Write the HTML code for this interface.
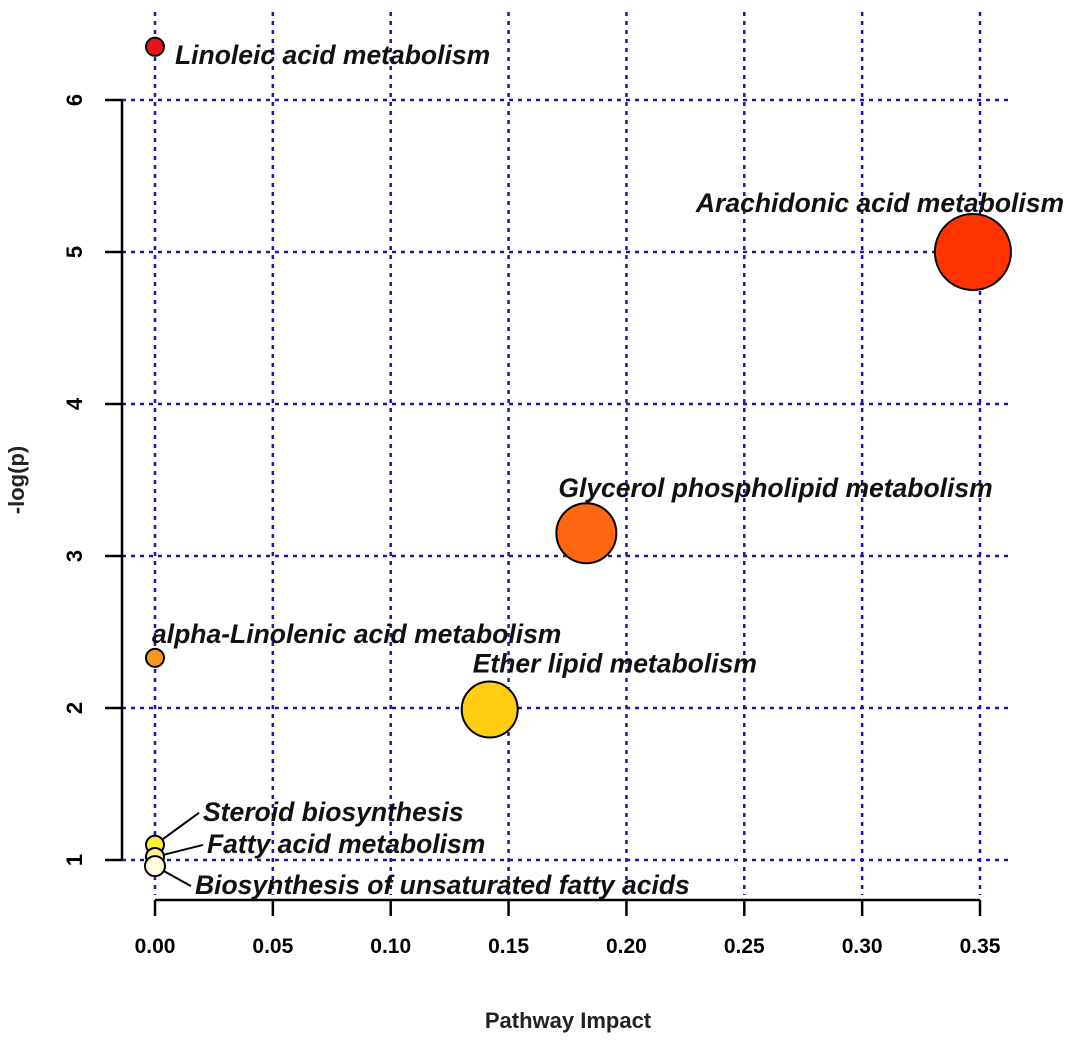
<!DOCTYPE html>
<html><head><meta charset="utf-8"><style>body{margin:0;background:#fff}svg{display:block}</style></head>
<body>
<svg id="chart" width="1080" height="1044" xmlns="http://www.w3.org/2000/svg" font-family="Liberation Sans, sans-serif"></svg>
<script>
const names=["Linoleic acid metabolism","Arachidonic acid metabolism","Glycerol phospholipid metabolism","alpha-Linolenic acid metabolism","Ether lipid metabolism","Steroid biosynthesis","Fatty acid metabolism","Biosynthesis of unsaturated fatty acids"];
const impact=[0,0.347,0.183,0,0.142,0,0,0];
const logp=[6.35,5.0,3.15,2.33,1.99,1.1,1.02,0.96];
const radius=[9,38,30,9,28,9,9,10];
const colors=["#e8141a","#ff3300","#ff6611","#f59a20","#ffcc11","#ffee33","#fff08a","#ffffdd"];
const xTicks=[0,0.05,0.10,0.15,0.20,0.25,0.30,0.35];
const xTickLabels=["0.00","0.05","0.10","0.15","0.20","0.25","0.30","0.35"];
const yTicks=[1,2,3,4,5,6];
const labelDx=[20,-277,-28,-3,-17,48,52,40];
const labelDy=[17,-40,-36,-15,-37,-24,-4,28];
const X=v=>155+v*(825/0.35);
const Y=v=>860-(v-1)*152;
const svg=document.getElementById('chart');
const NS="http://www.w3.org/2000/svg";
function mk(t,a,p){const e=document.createElementNS(NS,t);for(const k in a)e.setAttribute(k,a[k]);(p||svg).appendChild(e);return e;}
xTicks.forEach((t,i)=>{
const g=mk('line',{x1:X(t),x2:X(t),y1:12,y2:895,stroke:'#1a1aa0','stroke-width':2.5,'stroke-dasharray':'4,5'});


const tk=mk('line',{x1:X(t),x2:X(t),y1:900,y2:916,stroke:'#000','stroke-width':2.5});


const tl=mk('text',{x:X(t),y:953,'text-anchor':'middle','font-size':21,'font-weight':'bold'});
tl.textContent=xTickLabels[i];


});
yTicks.forEach(t=>{
const g=mk('line',{x1:122,x2:1012,y1:Y(t),y2:Y(t),stroke:'#1a1aa0','stroke-width':2.5,'stroke-dasharray':'4,5'});


const tk=mk('line',{x1:105,x2:122,y1:Y(t),y2:Y(t),stroke:'#000','stroke-width':2.5});


const tl=mk('text',{x:0,y:0,'text-anchor':'middle','font-size':22,'font-weight':'bold',transform:`translate(82,${Y(t)}) rotate(-90)`});
tl.textContent=String(t);


});
const ya=mk('line',{x1:122,x2:122,y1:Y(6),y2:Y(1),stroke:'#000','stroke-width':2.5});


const xa=mk('line',{x1:X(0),x2:X(0.35),y1:900,y2:900,stroke:'#000','stroke-width':2.5});


const xt=mk('text',{x:568,y:1028,'text-anchor':'middle','font-size':22,'font-weight':'bold','fill':'#222'});
xt.textContent="Pathway  Impact";


const yt=mk('text',{x:0,y:0,'text-anchor':'middle','font-size':22,'font-weight':'bold','fill':'#222',transform:'translate(24,480) rotate(-90)'});
yt.textContent="-log(p)";


names.forEach((n,i)=>{
const cx=X(impact[i]),cy=Y(logp[i]);
if(i>=5){
const ln=mk('line',{x1:cx,y1:cy,x2:cx+labelDx[i]-4,y2:cy+labelDy[i]-8,stroke:'#000','stroke-width':2});


}
});
names.forEach((n,i)=>{
const cx=X(impact[i]),cy=Y(logp[i]);
const c=mk('circle',{cx:cx,cy:cy,r:radius[i],fill:colors[i],stroke:'#000','stroke-width':2});


const tx=mk('text',{x:cx+labelDx[i],y:cy+labelDy[i],'font-size':26.5,'font-weight':'bold','font-style':'italic',fill:'#111'});
tx.textContent=n;


});
</script>
</body></html>
